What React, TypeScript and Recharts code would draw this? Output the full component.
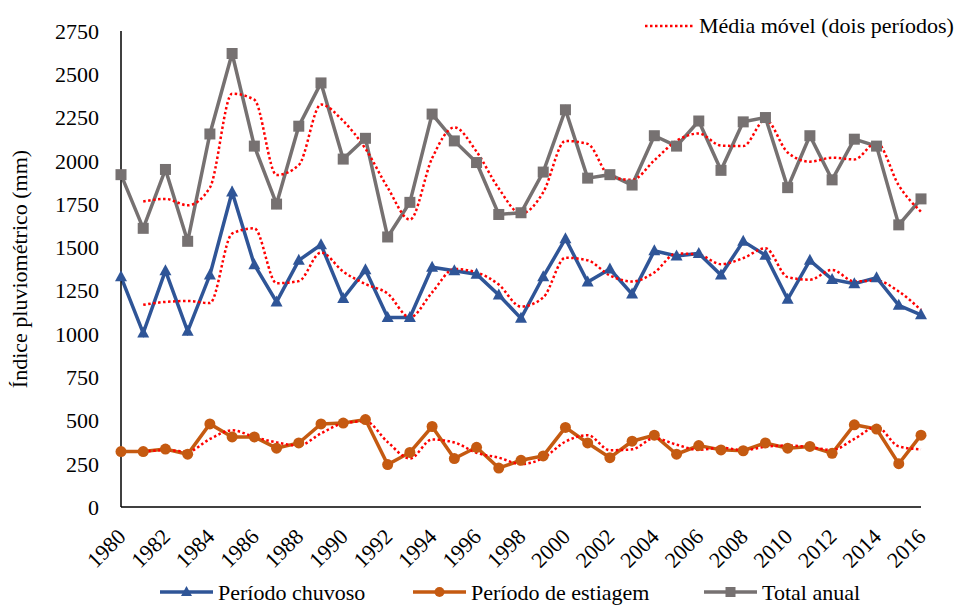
import { LineChart, Line, XAxis, YAxis } from 'recharts';

// Índice pluviométrico anual (mm), 1980-2016
const years = [
  '1980', '1981', '1982', '1983', '1984', '1985', '1986', '1987', '1988', '1989',
  '1990', '1991', '1992', '1993', '1994', '1995', '1996', '1997', '1998', '1999',
  '2000', '2001', '2002', '2003', '2004', '2005', '2006', '2007', '2008', '2009',
  '2010', '2011', '2012', '2013', '2014', '2015', '2016',
];

const chuvoso = [
  1330, 1005, 1365, 1015, 1340, 1820, 1400, 1185, 1425, 1515,
  1205, 1370, 1095, 1095, 1385, 1365, 1345, 1225, 1090, 1330,
  1550, 1300, 1375, 1230, 1480, 1450, 1465, 1340, 1535, 1455,
  1200, 1425, 1315, 1290, 1325, 1165, 1110,
];

const estiagem = [
  320, 320, 335, 305, 480, 405, 405, 340, 370, 480,
  485, 505, 245, 315, 465, 280, 345, 225, 270, 295,
  460, 370, 285, 380, 415, 305, 355, 330, 325, 370,
  340, 350, 310, 475, 450, 250, 415,
];

const totalAnual = [
  1920, 1610, 1950, 1535, 2155, 2620, 2085, 1750, 2200, 2450,
  2010, 2130, 1560, 1760, 2270, 2115, 1990, 1690, 1700, 1935,
  2295, 1900, 1920, 1860, 2145, 2085, 2230, 1945, 2225, 2250,
  1845, 2145, 1890, 2125, 2085, 1630, 1780,
];

// média móvel (dois períodos)
const mmChuvoso = [
  null, 1168, 1185, 1190, 1178, 1580, 1610, 1293, 1305, 1470,
  1360, 1288, 1233, 1095, 1240, 1375, 1355, 1285, 1158, 1210,
  1440, 1425, 1338, 1303, 1355, 1465, 1458, 1403, 1438, 1495,
  1328, 1313, 1370, 1303, 1308, 1245, 1138,
];

const mmEstiagem = [
  null, 320, 328, 320, 393, 443, 405, 373, 355, 425,
  483, 495, 375, 280, 390, 373, 313, 285, 248, 283,
  378, 415, 328, 333, 398, 360, 330, 343, 328, 348,
  355, 345, 330, 393, 463, 350, 333,
];

const mmTotal = [
  null, 1765, 1780, 1743, 1845, 2388, 2353, 1918, 1975, 2325,
  2230, 2070, 1845, 1660, 2015, 2193, 2053, 1840, 1695, 1818,
  2115, 2098, 1910, 1890, 2003, 2115, 2158, 2088, 2085, 2238,
  2048, 1995, 2018, 2008, 2105, 1858, 1705,
];

const yTicks = [0, 250, 500, 750, 1000, 1250, 1500, 1750, 2000, 2250, 2500, 2750];

const FONT = "'Liberation Serif', 'Times New Roman', Times, 'Noto Serif', 'DejaVu Serif', FreeSerif, serif";
const BLUE = '#2F5597';
const ORANGE = '#C55A11';
const GRAY = '#767171';
const RED = '#FF0000';

const data = years.map((year, i) => ({
  year,
  chuvoso: chuvoso[i],
  estiagem: estiagem[i],
  total: totalAnual[i],
  mmChuvoso: mmChuvoso[i],
  mmEstiagem: mmEstiagem[i],
  mmTotal: mmTotal[i],
}));

function Triangle(props: any) {
  const { cx, cy } = props;
  if (cx == null || cy == null) return null;
  return <polygon key={props.key} points={`${cx},${cy - 6.5} ${cx - 6},${cy + 4.5} ${cx + 6},${cy + 4.5}`} fill={BLUE} />;
}

function Circle(props: any) {
  const { cx, cy } = props;
  if (cx == null || cy == null) return null;
  return <circle key={props.key} cx={cx} cy={cy} r={5.5} fill={ORANGE} />;
}

function Square(props: any) {
  const { cx, cy } = props;
  if (cx == null || cy == null) return null;
  return <rect key={props.key} x={cx - 5.5} y={cy - 5.5} width={11} height={11} fill={GRAY} />;
}

function YearTick({ x, y, payload }: any) {
  const ax = x + 6;
  const ay = y + 23;
  return (
    <text
      x={ax}
      y={ay}
      textAnchor="end"
      transform={`rotate(-45, ${ax}, ${ay})`}
      fill="#000"
      style={{ fontSize: 22, fontFamily: FONT }}
    >
      {payload.value}
    </text>
  );
}

function LegendItem({ x, label, color, marker }: { x: number; label: string; color: string; marker: string }) {
  const cy = 592;
  const mx = x + 26.5;
  return (
    <g>
      <line x1={x} y1={cy} x2={x + 53} y2={cy} stroke={color} strokeWidth={3.5} />
      {marker === 'triangle' && <polygon points={`${mx},${cy - 6} ${mx - 5.5},${cy + 4} ${mx + 5.5},${cy + 4}`} fill={color} />}
      {marker === 'circle' && <circle cx={mx} cy={cy} r={5} fill={color} />}
      {marker === 'square' && <rect x={mx - 5} y={cy - 5} width={10} height={10} fill={color} />}
      <text x={x + 58} y={600} fill="#000" style={{ fontSize: 22, fontFamily: FONT }}>
        {label}
      </text>
    </g>
  );
}

export default function App() {
  return (
    <div style={{ position: 'absolute', left: 0, top: 0, width: 959, height: 605, background: '#fff', fontFamily: FONT }}>
      <LineChart width={959} height={605} data={data} margin={{ top: 31, right: 38, left: 0, bottom: 0 }}>
        <XAxis
          dataKey="year"
          interval={1}
          tick={<YearTick />}
          tickLine={false}
          axisLine={{ stroke: '#000', strokeWidth: 1.5 }}
          height={98}
        />
        <YAxis
          domain={[0, 2750]}
          ticks={yTicks}
          width={121}
          tickLine={false}
          tickMargin={16}
          axisLine={{ stroke: '#000', strokeWidth: 1.5 }}
          tick={{ fill: '#000', fontSize: 22, style: { fontFamily: FONT } }}
          label={{
            value: 'Índice pluviométrico (mm)',
            angle: -90,
            position: 'insideLeft',
            offset: 19,
            style: { textAnchor: 'middle', fontSize: 22, fontFamily: FONT, fill: '#000' },
          }}
        />
        <Line dataKey="total" stroke={GRAY} strokeWidth={3.5} dot={Square} isAnimationActive={false} />
        <Line dataKey="chuvoso" stroke={BLUE} strokeWidth={3.5} dot={Triangle} isAnimationActive={false} />
        <Line dataKey="estiagem" stroke={ORANGE} strokeWidth={3.5} dot={Circle} isAnimationActive={false} />
        <Line type="monotone" dataKey="mmTotal" stroke={RED} strokeWidth={2.5} strokeDasharray="2.5 2.5" dot={false} isAnimationActive={false} />
        <Line type="monotone" dataKey="mmChuvoso" stroke={RED} strokeWidth={2.5} strokeDasharray="2.5 2.5" dot={false} isAnimationActive={false} />
        <Line type="monotone" dataKey="mmEstiagem" stroke={RED} strokeWidth={2.5} strokeDasharray="2.5 2.5" dot={false} isAnimationActive={false} />
      </LineChart>
      <svg width={959} height={605} style={{ position: 'absolute', left: 0, top: 0, pointerEvents: 'none' }}>
        <line x1={645} y1={26} x2={694} y2={26} stroke={RED} strokeWidth={2.5} strokeDasharray="2.5 2.5" />
        <text x={699} y={33} fill="#000" style={{ fontSize: 22, fontFamily: FONT }}>
          Média móvel (dois períodos)
        </text>
        <LegendItem x={160} label="Período chuvoso" color={BLUE} marker="triangle" />
        <LegendItem x={413} label="Período de estiagem" color={ORANGE} marker="circle" />
        <LegendItem x={704} label="Total anual" color={GRAY} marker="square" />
      </svg>
    </div>
  );
}
